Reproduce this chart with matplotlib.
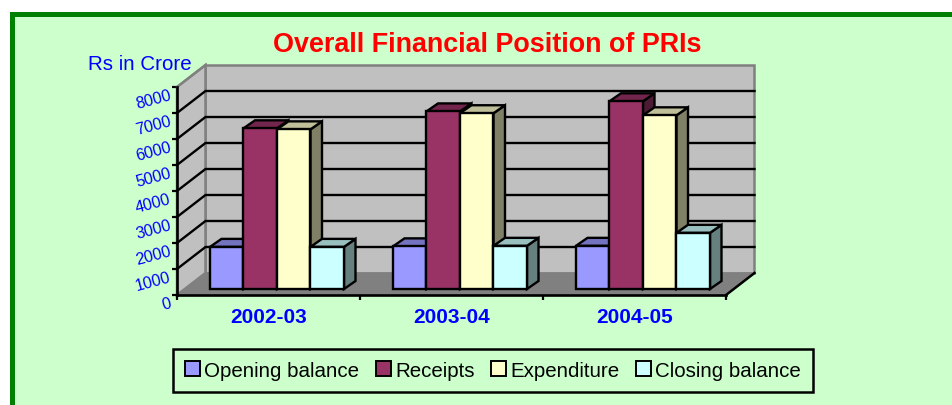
import matplotlib
matplotlib.use('Agg')
import matplotlib.pyplot as plt
from matplotlib.patches import Patch, Polygon, Rectangle
from matplotlib.colors import to_rgb

plt.rcParams['font.family'] = ['Liberation Sans', 'DejaVu Sans']

# Data
years = ['2002-03', '2003-04', '2004-05']
opening = [1620, 1640, 1660]
receipts = [6180, 6830, 7220]
expenditure = [6140, 6760, 6680]
closing = [1620, 1660, 2160]
y_ticks = [0, 1000, 2000, 3000, 4000, 5000, 6000, 7000, 8000]

series_names = ['Opening balance', 'Receipts', 'Expenditure', 'Closing balance']
series_colors = ['#9999FF', '#993366', '#FFFFCC', '#CCFFFF']
series_values = [opening, receipts, expenditure, closing]

W, H = 953, 406
fig = plt.figure(figsize=(W / 100, H / 100), dpi=100, facecolor='white')

# Page background with the green border on the top and left
fig.patches.append(Rectangle((12 / W, -0.1), 1, 1.1 - 14.5 / H, transform=fig.transFigure,
                             facecolor='#CCFFCC', edgecolor='#008000', linewidth=3.6, zorder=-1))

# Axes is the front plane of the 3D box
left, right, top, bottom = 177, 726, 88, 296
ax = fig.add_axes([left / W, 1 - bottom / H, (right - left) / W, (bottom - top) / H])
ax.patch.set_visible(False)
ax.set_xlim(0, 3)
ax.set_ylim(0, 8000)

# one pixel in data units, used for the oblique offsets
px_x = 3 / (right - left)
px_y = 8000 / (bottom - top)

# depth of the box and of the bars, in data units
box_dx, box_dy = 28.5 * px_x, 22 * px_y
bar_off_x, bar_off_y = 8.5 * px_x, 6 * px_y
bar_dx, bar_dy = 11.5 * px_x, 8 * px_y
bar_w = 33.5 * px_x


def shade(color, f):
    return tuple(c * f for c in to_rgb(color))


def face(points, color, z, lw=0.9, ec='#808080'):
    ax.add_patch(Polygon(points, closed=True, facecolor=color, edgecolor=ec,
                         linewidth=lw, zorder=z, clip_on=False))


# walls and floor
face([(box_dx, box_dy), (3 + box_dx, box_dy), (3 + box_dx, 8000 + box_dy), (box_dx, 8000 + box_dy)],
     '#C0C0C0', 1, lw=1.8)
face([(0, 0), (box_dx, box_dy), (box_dx, 8000 + box_dy), (0, 8000)], '#C0C0C0', 1, lw=1.8)
face([(0, 0), (3, 0), (3 + box_dx, box_dy), (box_dx, box_dy)], '#808080', 1, lw=0.9)

# gridlines on back and side walls
for t in y_ticks[1:-1]:
    ax.plot([0, box_dx, 3 + box_dx], [t, t + box_dy, t + box_dy], color='black',
            linewidth=1.7, zorder=2, clip_on=False, solid_joinstyle='miter')
ax.plot([0, box_dx], [8000, 8000 + box_dy], color='#808080', linewidth=1.6, zorder=2, clip_on=False)
# front-right floor edge
ax.plot([3, 3 + box_dx], [0, box_dy], color='black', linewidth=1.8, zorder=2, clip_on=False)

# bars: front face with ax.bar, top and side as polygons
z = 3
for g in range(len(years)):
    start = g + 0.5 - 2 * bar_w + bar_off_x
    for s, vals in enumerate(series_values):
        x0 = start + s * bar_w
        x1 = x0 + bar_w
        v = vals[g] + bar_off_y
        face([(x1, bar_off_y), (x1 + bar_dx, bar_off_y + bar_dy), (x1 + bar_dx, v + bar_dy), (x1, v)],
             shade(series_colors[s], 0.5), z, lw=1.7, ec='black')
        face([(x0, v), (x1, v), (x1 + bar_dx, v + bar_dy), (x0 + bar_dx, v + bar_dy)],
             shade(series_colors[s], 0.75), z, lw=1.7, ec='black')
        ax.bar(x0, vals[g], width=bar_w, bottom=bar_off_y, align='edge', color=series_colors[s],
               edgecolor='black', linewidth=1.7, zorder=z, clip_on=False)
        z += 1

# spines and ticks
for name in ['top', 'right']:
    ax.spines[name].set_visible(False)
for name in ['left', 'bottom']:
    ax.spines[name].set_linewidth(1.9)
    ax.spines[name].set_zorder(30)
ax.set_yticks(y_ticks)
ax.set_xticks([0, 1, 2, 3])
ax.set_xticklabels([])
ax.set_xticks([0.5, 1.5, 2.5], minor=True)
ax.set_xticklabels(years, minor=True, fontsize=15, fontweight='bold', color='#0000FF')
ax.tick_params(axis='x', which='minor', length=0, pad=9)
ax.tick_params(axis='x', which='major', length=3.5, width=1.6, direction='out')
ax.tick_params(axis='y', length=3.5, width=1.6, direction='out', pad=2.5, labelsize=11.6,
               labelcolor='#0000FF')
for lab in ax.get_yticklabels():
    lab.set_rotation(15)
    lab.set_rotation_mode('anchor')
    lab.set_ha('right')
    lab.set_va('top')

# titles
fig.text(487 / W, 1 - 45.5 / H, 'Overall Financial Position of PRIs', color='#FF0000', fontsize=19.4,
         fontweight='bold', ha='center', va='center')
fig.text(140 / W, 1 - 64.5 / H, 'Rs in Crore', color='#0000FF', fontsize=14.8, ha='center', va='center')

# legend
handles = [Patch(facecolor=c, edgecolor='black', linewidth=1.4) for c in series_colors]
leg = fig.legend(handles, series_names, ncol=4, loc='center', bbox_to_anchor=(493 / W, 1 - 371.5 / H),
                 fontsize=14.8, frameon=True, fancybox=False, edgecolor='black', facecolor='#CCFFCC',
                 framealpha=1, handlelength=0.72, handleheight=0.72, handletextpad=0.22,
                 columnspacing=0.8, borderpad=0.56, borderaxespad=0)
leg.get_frame().set_linewidth(1.8)

fig.savefig('out.png', dpi=100, facecolor=fig.get_facecolor())
